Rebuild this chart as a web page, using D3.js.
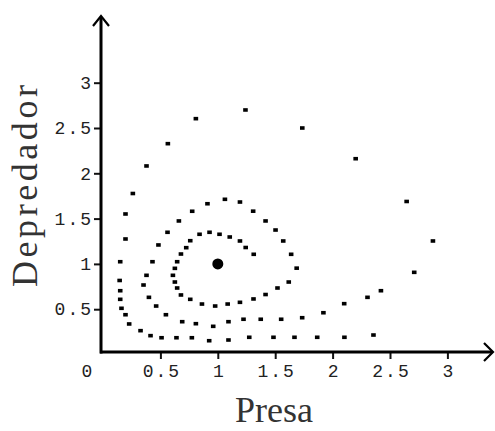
<!DOCTYPE html>
<html>
<head>
<meta charset="utf-8">
<script src="https://cdn.jsdelivr.net/npm/d3@7"></script>
<style>
  body { margin: 0; background: #fff; }
  .tick text { font-family: "Liberation Mono", monospace; font-size: 18px; fill: #222; letter-spacing: 2px; }
  .title { font-family: "Liberation Serif", serif; font-size: 36px; fill: #333; }
</style>
</head>
<body>
<div class="chart"></div>
<script>
// euler steps of the predator-prey system
const presa = [1.313, 1.243, 1.193, 1.104, 1.015, 0.928, 0.841, 0.760, 0.725, 0.679,
  0.646, 0.626, 0.609, 0.626, 0.646, 0.679, 0.760, 0.862, 0.977, 1.086,
  1.193, 1.311, 1.416, 1.520, 1.618, 1.687, 1.639, 1.570, 1.503, 1.416,
  1.308, 1.193, 1.062, 0.910, 0.777, 0.661, 0.562, 0.483, 0.431, 0.379,
  0.353, 0.400, 0.463, 0.548, 0.690, 0.809, 0.960, 1.093, 1.224, 1.374,
  1.552, 1.735, 1.920, 2.101, 2.304, 2.421, 2.711, 2.874, 2.645, 2.201,
  1.736, 1.241, 0.809, 0.565, 0.379, 0.260, 0.196, 0.196, 0.150, 0.145,
  0.150, 0.150, 0.161, 0.196, 0.228, 0.327, 0.414, 0.510, 0.640, 0.774,
  0.925, 1.093, 1.274, 1.485, 1.668, 1.866, 2.103, 2.356]
const depredador = [1.106, 1.181, 1.253, 1.297, 1.327, 1.349, 1.327, 1.256, 1.179, 1.109,
  1.024, 0.951, 0.874, 0.800, 0.734, 0.657, 0.609, 0.557, 0.535, 0.557,
  0.576, 0.613, 0.662, 0.734, 0.800, 0.953, 1.106, 1.253, 1.374, 1.474,
  1.582, 1.683, 1.713, 1.664, 1.581, 1.474, 1.349, 1.209, 1.024, 0.874,
  0.767, 0.631, 0.535, 0.439, 0.362, 0.340, 0.311, 0.362, 0.389, 0.389,
  0.389, 0.406, 0.461, 0.561, 0.631, 0.704, 0.907, 1.253, 1.689, 2.161,
  2.500, 2.699, 2.603, 2.327, 2.081, 1.777, 1.551, 1.275, 1.024, 0.817,
  0.704, 0.609, 0.510, 0.439, 0.337, 0.263, 0.208, 0.185, 0.185, 0.185,
  0.152, 0.160, 0.190, 0.190, 0.190, 0.190, 0.190, 0.215]
const equilibrio = [1, 1]
const xTicks = [0.5, 1, 1.5, 2, 2.5, 3]
const yTicks = [0.5, 1, 1.5, 2, 2.5, 3]

const width = 495
const height = 431

const svg = d3.select('.chart')
  .append('svg')
  .attr('width', width)
  .attr('height', height)

const x = d3.scaleLinear().domain([0, 3]).range([103, 447.4])
const y = d3.scaleLinear().domain([0, 3]).range([354.5, 82.7])

const axisX = 352  // pixel row of the horizontal axis line
const axisY = 101  // pixel column of the vertical axis line

// x axis ticks + labels
const gx = svg.append('g')
  .attr('transform', `translate(0, ${axisX})`)
  .call(d3.axisBottom(x).tickValues(xTicks).tickSize(7).tickPadding(5).tickFormat(d3.format('')))
gx.select('.domain').remove()
gx.selectAll('.tick line').attr('stroke', '#111').attr('stroke-width', 2)
gx.selectAll('.tick text').attr('dx', '1px')

// y axis ticks + labels
const gy = svg.append('g')
  .attr('transform', `translate(${axisY}, 0)`)
  .call(d3.axisLeft(y).tickValues(yTicks).tickSize(7).tickPadding(1).tickFormat(d3.format('')))
gy.select('.domain').remove()
gy.selectAll('.tick line').attr('stroke', '#111').attr('stroke-width', 2)

// origin label
svg.append('text')
  .attr('x', 87)
  .attr('y', 377)
  .attr('text-anchor', 'middle')
  .style('font-family', '"Liberation Mono", monospace')
  .style('font-size', '18px')
  .style('fill', '#222')
  .text('0')

// axis lines with open arrow heads
svg.append('line')
  .attr('x1', axisY - 1).attr('x2', 492)
  .attr('y1', axisX).attr('y2', axisX)
  .attr('stroke', '#000').attr('stroke-width', 3)
svg.append('path')
  .attr('d', `M484,${axisX - 9} L493,${axisX} L484,${axisX + 9}`)
  .attr('fill', 'none').attr('stroke', '#000').attr('stroke-width', 2.2)

svg.append('line')
  .attr('x1', axisY).attr('x2', axisY)
  .attr('y1', axisX + 1.5).attr('y2', 17)
  .attr('stroke', '#000').attr('stroke-width', 3)
svg.append('path')
  .attr('d', `M${axisY - 8},26 L${axisY},16 L${axisY + 8},26`)
  .attr('fill', 'none').attr('stroke', '#000').attr('stroke-width', 2.2)

// trajectory points
const pts = presa.map((p, i) => ({p: p, d: depredador[i]}))

svg.append('g')
  .selectAll('rect')
  .data(pts)
  .enter().append('rect')
    .attr('x', d => x(d.p) - 2.3)
    .attr('y', d => y(d.d) - 1.8)
    .attr('width', 4.6)
    .attr('height', 3.6)
    .attr('fill', '#000')

// equilibrium point
svg.append('circle')
  .attr('cx', x(equilibrio[0]))
  .attr('cy', y(equilibrio[1]))
  .attr('r', 5.5)
  .attr('fill', '#000')

// axis titles
svg.append('text')
  .attr('class', 'title')
  .attr('x', 235)
  .attr('y', 422)
  .attr('textLength', 78)
  .attr('lengthAdjust', 'spacing')
  .text('Presa')

svg.append('text')
  .attr('class', 'title')
  .attr('transform', 'translate(37, 287) rotate(-90)')
  .attr('textLength', 202)
  .attr('lengthAdjust', 'spacing')
  .text('Depredador')
</script>
</body>
</html>
